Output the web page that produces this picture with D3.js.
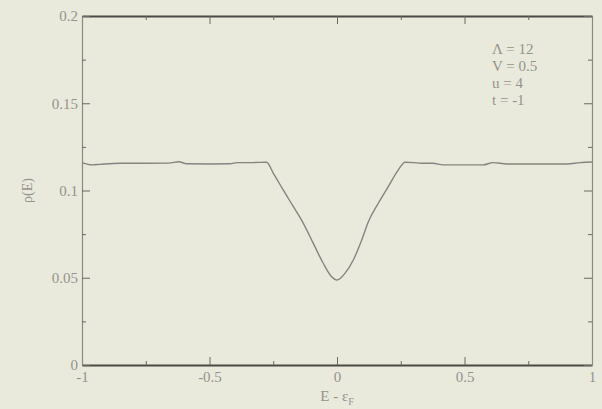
<!DOCTYPE html>
<html>
<head>
<meta charset="utf-8">
<script src="https://cdnjs.cloudflare.com/ajax/libs/d3/7.8.5/d3.min.js"></script>
<style>
	body { margin: 0; background: #e9e9dc; }
	svg { display: block; }
	.tick text, .lbl { font-family: "Liberation Serif", serif; fill: #94948c; }
</style>
</head>
<body>
<div id="graph"></div>
<script>
// density of states
const energy = [-1, -0.96, -0.93, -0.85, -0.75, -0.66, -0.62, -0.59, -0.5, -0.42, -0.39, -0.33, -0.276,
	-0.25, -0.211, -0.171, -0.132, -0.093, -0.054, -0.021, 0, 0.031, 0.064, 0.097, 0.123, 0.162, 0.201,
	0.24, 0.267, 0.3, 0.33, 0.376, 0.416, 0.5, 0.573, 0.612, 0.667, 0.75, 0.85, 0.902, 0.953, 1];
const rho = [0.116, 0.1147, 0.115, 0.1156, 0.1156, 0.1157, 0.1165, 0.1153, 0.1152, 0.1153, 0.116, 0.116, 0.1162,
	0.11, 0.1003, 0.0907, 0.0812, 0.0697, 0.0583, 0.0506, 0.0487, 0.0525, 0.0602, 0.0716, 0.0821, 0.0927, 0.1022,
	0.1117, 0.1162, 0.116, 0.1156, 0.1156, 0.1147, 0.1147, 0.1147, 0.116, 0.1152, 0.1152, 0.1152, 0.1152, 0.116, 0.1163];

const xTicks = [-1, -0.5, 0, 0.5, 1];
const xMinor = [-0.75, -0.25, 0.25, 0.75];
const yTicks = [0, 0.05, 0.1, 0.15, 0.2];
const yMinor = [0.025, 0.075, 0.125, 0.175];
const params = ["\u039B = 12", "V = 0.5", "u = 4", "t = -1"];

const margin = {top: 16, right: 10, bottom: 44, left: 82},
	width = 602 - margin.left - margin.right,
	height = 409 - margin.top - margin.bottom;

const xScale = d3.scaleLinear().domain([-1, 1]).range([0, width]);
const yScale = d3.scaleLinear().domain([0, 0.2]).range([height, 0]);

const svg = d3.select("#graph").append("svg")
	.attr("width", width + margin.left + margin.right)
	.attr("height", height + margin.top + margin.bottom)
	.append("g")
	.attr("transform", "translate(" + margin.left + "," + margin.top + ")");

function styleAxis(g, color, w) {
	g.select(".domain").attr("stroke", color).attr("stroke-width", w);
	g.selectAll(".tick line").attr("stroke", "#6a6a64");
	g.selectAll(".tick text").style("font-size", "15px");
}

// major + minor ticks, all pointing inward
svg.append("g").attr("transform", "translate(0," + height + ")")
	.call(d3.axisBottom(xScale).tickValues(xTicks).tickFormat(String).tickSize(-8).tickSizeOuter(0).tickPadding(6))
	.call(g => styleAxis(g, "#4a4a45", 1.8));
svg.append("g").attr("transform", "translate(0," + height + ")")
	.call(d3.axisBottom(xScale).tickValues(xMinor).tickFormat("").tickSize(-4).tickSizeOuter(0))
	.call(g => { g.select(".domain").remove(); g.selectAll("line").attr("stroke", "#6a6a64"); });

svg.append("g")
	.call(d3.axisTop(xScale).tickValues(xTicks).tickFormat("").tickSize(-8).tickSizeOuter(0))
	.call(g => styleAxis(g, "#4a4a45", 1.8));
svg.append("g")
	.call(d3.axisTop(xScale).tickValues(xMinor).tickFormat("").tickSize(-4).tickSizeOuter(0))
	.call(g => { g.select(".domain").remove(); g.selectAll("line").attr("stroke", "#6a6a64"); });

svg.append("g")
	.call(d3.axisLeft(yScale).tickValues(yTicks).tickFormat(String).tickSize(-8).tickSizeOuter(0).tickPadding(4))
	.call(g => styleAxis(g, "#8a8a84", 1.2));
svg.append("g")
	.call(d3.axisLeft(yScale).tickValues(yMinor).tickFormat("").tickSize(-4).tickSizeOuter(0))
	.call(g => { g.select(".domain").remove(); g.selectAll("line").attr("stroke", "#6a6a64"); });

svg.append("g").attr("transform", "translate(" + width + ",0)")
	.call(d3.axisRight(yScale).tickValues(yTicks).tickFormat("").tickSize(-8).tickSizeOuter(0))
	.call(g => styleAxis(g, "#8a8a84", 1.2));
svg.append("g").attr("transform", "translate(" + width + ",0)")
	.call(d3.axisRight(yScale).tickValues(yMinor).tickFormat("").tickSize(-4).tickSizeOuter(0))
	.call(g => { g.select(".domain").remove(); g.selectAll("line").attr("stroke", "#6a6a64"); });

const line = d3.line()
	.x((d, i) => xScale(energy[i]))
	.y(d => yScale(d))
	.curve(d3.curveMonotoneX);

svg.append("path")
	.datum(rho)
	.attr("fill", "none")
	.attr("stroke", "#85857e")
	.attr("stroke-width", 1.4)
	.attr("d", line);

// axis titles
svg.append("text")
	.attr("class", "lbl")
	.attr("transform", "rotate(-90)")
	.attr("x", -(yScale(0.1)))
	.attr("y", -50)
	.style("text-anchor", "middle")
	.style("font-size", "14px")
	.text("\u03C1(E)");

const xt = svg.append("text")
	.attr("class", "lbl")
	.attr("x", xScale(0))
	.attr("y", height + 36)
	.style("text-anchor", "middle")
	.style("font-size", "15px")
	.text("E - \u03B5");
xt.append("tspan").attr("dy", 4).style("font-size", "10px").text("F");

// parameters
svg.selectAll(".param")
	.data(params)
	.enter().append("text")
	.attr("class", "lbl param")
	.attr("x", 410)
	.attr("y", (d, i) => 38 + i * 17)
	.style("font-size", "15px")
	.text(d => d);
</script>
</body>
</html>
